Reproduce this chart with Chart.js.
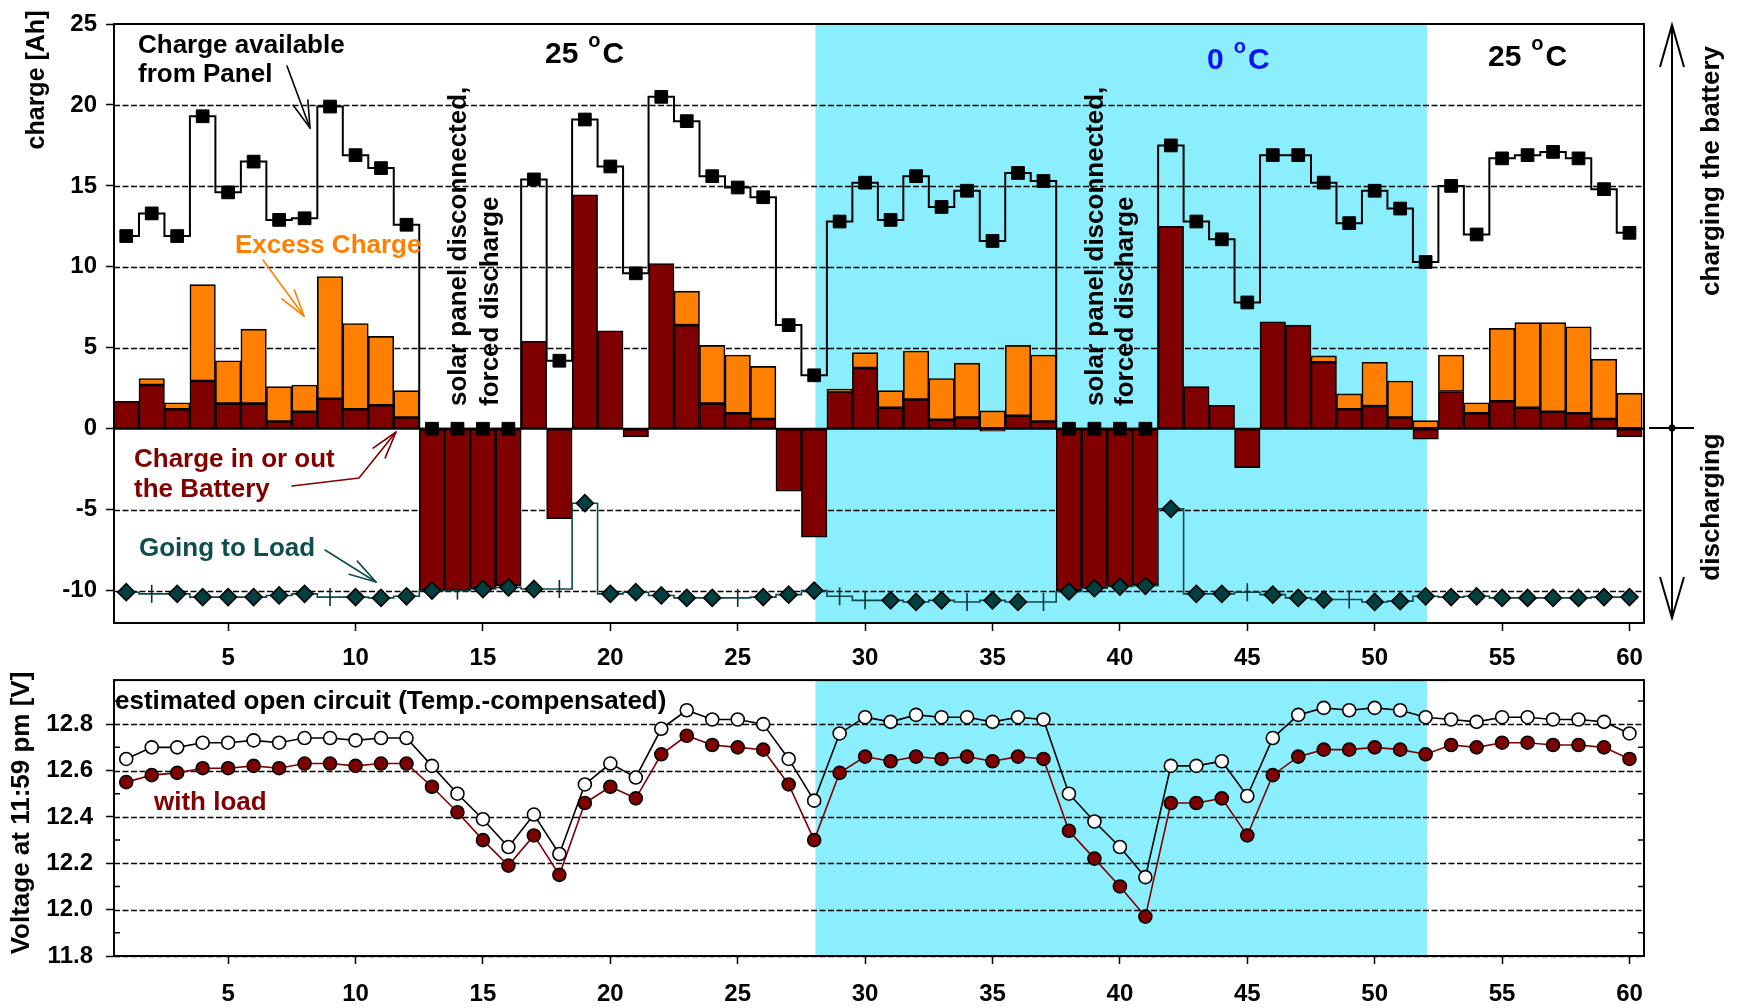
<!DOCTYPE html>
<html>
<head>
<meta charset="utf-8">
<script src="https://cdn.jsdelivr.net/npm/chart.js@4.4.1/dist/chart.umd.min.js"></script>
<style>
  html, body { margin: 0; padding: 0; background: #fff; }
  #wrap { position: relative; width: 1740px; height: 1008px; overflow: hidden; }
  canvas { position: absolute; left: 0; }
  #chargeChart { top: 0; }
  #voltChart { top: 672px; }
</style>
</head>
<body>
<div id="wrap">
  <canvas id="chargeChart" width="1740" height="672"></canvas>
  <canvas id="voltChart" width="1740" height="336"></canvas>
</div>
<script>
// ---- data -----------------------------------------------------------
const days = [1, 2, 3, 4, 5, 6, 7, 8, 9, 10, 11, 12, 13, 14, 15, 16, 17, 18, 19, 20,
              21, 22, 23, 24, 25, 26, 27, 28, 29, 30, 31, 32, 33, 34, 35, 36, 37, 38, 39, 40,
              41, 42, 43, 44, 45, 46, 47, 48, 49, 50, 51, 52, 53, 54, 55, 56, 57, 58, 59, 60];

// charge available from the panel [Ah]
const panelCharge = [11.9, 13.3, 11.9, 19.3, 14.6, 16.5, 12.9, 13.0, 19.9, 16.9, 16.1, 12.6,
                     0, 0, 0, 0, 15.4, 4.2, 19.1, 16.2, 9.6, 20.5, 19.0, 15.6, 14.9, 14.3, 6.4, 3.3,
                     12.8, 15.2, 12.9, 15.6, 13.7, 14.7, 11.6, 15.8, 15.3, 0, 0, 0, 0,
                     17.5, 12.8, 11.7, 7.8, 16.9, 16.9, 15.2, 12.7, 14.7, 13.6, 10.3,
                     15.0, 12.0, 16.7, 16.9, 17.1, 16.7, 14.8, 12.1];

// charge into (+) or out of (-) the battery [Ah]
const batteryCharge = [1.7, 2.7, 1.2, 2.95, 1.55, 1.55, 0.45, 1.05, 1.85, 1.2, 1.45, 0.7,
                       -10.0, -10.0, -9.9, -9.7, 5.4, -5.55, 14.45, 6.05, -0.5, 10.2, 6.4, 1.55, 0.95, 0.6, -3.85, -6.7,
                       2.3, 3.75, 1.3, 1.8, 0.55, 0.7, -0.15, 0.8, 0.45, -10.0, -9.85, -9.75, -9.65,
                       12.5, 2.6, 1.45, -2.4, 6.6, 6.4, 4.1, 1.2, 1.4, 0.7, -0.65,
                       2.3, 0.95, 1.7, 1.3, 1.05, 0.95, 0.6, -0.5];

// excess charge that could not be stored [Ah]
const excessCharge = [0, 0.4, 0.4, 5.95, 2.65, 4.6, 2.15, 1.65, 7.55, 5.3, 4.25, 1.65,
                      0, 0, 0, 0, 0, 0, 0, 0, 0, 0, 2.1, 3.6, 3.6, 3.25, 0, 0,
                      0.15, 0.95, 1.05, 3.0, 2.55, 3.35, 1.1, 4.35, 4.1, 0, 0, 0, 0,
                      0, 0, 0, 0, 0, 0, 0.4, 0.95, 2.7, 2.25, 0.5,
                      2.25, 0.65, 4.5, 5.25, 5.5, 5.35, 3.7, 2.2];

// charge going to the load [Ah]
const loadCharge = [-10.1, -10.2, -10.2, -10.4, -10.4, -10.4, -10.3, -10.2, -10.4, -10.4, -10.45, -10.35,
                    -10.0, -10.0, -9.9, -9.8, -9.9, -9.9, -4.6, -10.2, -10.1, -10.3, -10.45, -10.45, -10.45, -10.4, -10.25, -10.0,
                    -10.35, -10.6, -10.6, -10.7, -10.6, -10.7, -10.6, -10.7, -10.7, -10.05, -9.85, -9.75, -9.7,
                    -4.95, -10.2, -10.2, -10.1, -10.25, -10.45, -10.55, -10.55, -10.7, -10.65, -10.35,
                    -10.4, -10.35, -10.45, -10.45, -10.45, -10.45, -10.4, -10.4];

// days where the load value is marked with a tick instead of a diamond
const loadTickDays = [2, 9, 14, 18, 25, 29, 30, 34, 37, 45, 49];

// battery voltage at 11:59 pm [V]
const openCircuitVolt = [12.65, 12.70, 12.70, 12.72, 12.72, 12.73, 12.72, 12.74, 12.74, 12.73, 12.74, 12.74,
                         12.62, 12.50, 12.39, 12.27, 12.41, 12.24, 12.54, 12.63, 12.57, 12.78, 12.86, 12.82, 12.82, 12.80, 12.65, 12.47,
                         12.76, 12.83, 12.81, 12.84, 12.83, 12.83, 12.81, 12.83, 12.82, 12.50, 12.38, 12.27, 12.14,
                         12.62, 12.62, 12.64, 12.49, 12.74, 12.84, 12.87, 12.86, 12.87, 12.86, 12.83,
                         12.82, 12.81, 12.83, 12.83, 12.82, 12.82, 12.81, 12.76];
const withLoadVolt = [12.55, 12.58, 12.59, 12.61, 12.61, 12.62, 12.61, 12.63, 12.63, 12.62, 12.63, 12.63,
                      12.53, 12.42, 12.30, 12.19, 12.32, 12.15, 12.46, 12.53, 12.48, 12.67, 12.75, 12.71, 12.70, 12.69, 12.54, 12.30,
                      12.59, 12.66, 12.64, 12.66, 12.65, 12.66, 12.64, 12.66, 12.65, 12.34, 12.22, 12.10, 11.97,
                      12.46, 12.46, 12.48, 12.32, 12.58, 12.66, 12.69, 12.69, 12.70, 12.69, 12.67,
                      12.71, 12.70, 12.72, 12.72, 12.71, 12.71, 12.70, 12.65];

// period at 0 °C (days)
const coldPeriod = [28.05, 52.05];

// tick labels
const dayTicks = [5, 10, 15, 20, 25, 30, 35, 40, 45, 50, 55, 60];
const chargeTicks = [-10, -5, 0, 5, 10, 15, 20, 25];
const voltTicks = [11.8, 12.0, 12.2, 12.4, 12.6, 12.8];

// ---- styling helpers --------------------------------------------------
const FAMILY = '"Liberation Sans", Arial, Helvetica, sans-serif';
const bold = px => `bold ${px}px ${FAMILY}`;
const C_CYAN = '#8AEEFC';
const C_RED = '#800000';
const C_ORANGE = '#FF8000';
const C_TEAL = '#004040';
const C_TEAL_TXT = '#0F4E4E';

const pts = arr => days.map((d, i) => ({ x: d, y: arr[i] }));
const ptsNoZero = arr => days.map((d, i) => ({ x: d, y: arr[i] === 0 ? null : arr[i] }));

function text(ctx, s, x, y, size, color, opts = {}) {
  ctx.save();
  ctx.translate(x, y);
  if (opts.rot) ctx.rotate(opts.rot);
  ctx.font = bold(size);
  ctx.fillStyle = color;
  ctx.textAlign = opts.align || 'left';
  ctx.textBaseline = opts.baseline || 'alphabetic';
  ctx.fillText(s, 0, 0);
  ctx.restore();
}

function arrow(ctx, path, color, width, headLen = 28, headAng = 0.28) {
  ctx.save();
  ctx.strokeStyle = color;
  ctx.lineWidth = width;
  ctx.lineJoin = 'round';
  ctx.lineCap = 'round';
  ctx.beginPath();
  ctx.moveTo(path[0][0], path[0][1]);
  for (let i = 1; i < path.length; i++) ctx.lineTo(path[i][0], path[i][1]);
  ctx.stroke();
  const [px, py] = path[path.length - 2];
  const [tx, ty] = path[path.length - 1];
  const a = Math.atan2(ty - py, tx - px);
  ctx.beginPath();
  ctx.moveTo(tx - headLen * Math.cos(a - headAng), ty - headLen * Math.sin(a - headAng));
  ctx.lineTo(tx, ty);
  ctx.lineTo(tx - headLen * Math.cos(a + headAng), ty - headLen * Math.sin(a + headAng));
  ctx.stroke();
  ctx.restore();
}

// "25 °C" style label with a raised small "o"
function degLabel(ctx, num, x, base, color) {
  ctx.save();
  ctx.fillStyle = color;
  ctx.textAlign = 'left';
  ctx.textBaseline = 'alphabetic';
  ctx.font = bold(30);
  ctx.fillText(num, x, base);
  let cx = x + ctx.measureText(num).width + 10;
  ctx.font = bold(20);
  ctx.fillText('o', cx, base - 16);
  cx += ctx.measureText('o').width + 2;
  ctx.font = bold(30);
  ctx.fillText('C', cx, base);
  ctx.restore();
}

// cold period background
const coldBand = {
  id: 'coldBand',
  beforeDraw(chart) {
    const { ctx, chartArea: a, scales: { x } } = chart;
    const x0 = x.getPixelForValue(coldPeriod[0]);
    const x1 = x.getPixelForValue(coldPeriod[1]);
    ctx.save();
    ctx.fillStyle = C_CYAN;
    ctx.fillRect(x0, a.top, x1 - x0, a.bottom - a.top);
    ctx.restore();
  }
};

// dashed horizontal grid, solid zero line, and the plot frame
function gridFrame(dashValues, solidValues) {
  return {
    id: 'gridFrame',
    beforeDatasetsDraw(chart) {
      const { ctx, chartArea: a, scales: { y } } = chart;
      ctx.save();
      ctx.strokeStyle = '#000';
      ctx.lineWidth = 1.5;
      ctx.setLineDash([6, 2.5]);
      dashValues.forEach(v => {
        if (v >= y.max) return;
        const py = Math.round(y.getPixelForValue(v)) + 0.5;
        ctx.beginPath(); ctx.moveTo(a.left, py); ctx.lineTo(a.right, py); ctx.stroke();
      });
      ctx.setLineDash([]);
      ctx.lineWidth = 2;
      solidValues.forEach(v => {
        const py = y.getPixelForValue(v);
        ctx.beginPath(); ctx.moveTo(a.left, py); ctx.lineTo(a.right, py); ctx.stroke();
      });
      ctx.restore();
    },
    afterDatasetsDraw(chart) {
      const { ctx, chartArea: a } = chart;
      ctx.save();
      ctx.strokeStyle = '#000';
      ctx.lineWidth = 2;
      ctx.strokeRect(a.left, a.top, a.right - a.left, a.bottom - a.top);
      ctx.restore();
    }
  };
}

function xScale(height, padding) {
  return {
    type: 'linear', min: 0.52, max: 60.57, stacked: true, offset: false,
    afterBuildTicks: s => { s.ticks = dayTicks.map(v => ({ value: v })); },
    ticks: { autoSkip: false, maxRotation: 0, color: '#000', padding,
             font: { family: FAMILY, size: 24, weight: 'bold' }, callback: v => String(v) },
    grid: { offset: false, drawOnChartArea: false, drawTicks: true, tickLength: 8, tickColor: '#000', tickWidth: 1.5 },
    border: { display: true, color: '#000', width: 2 },
    afterFit: s => { s.height = height; s.paddingLeft = 0; s.paddingRight = 0; }
  };
}

// ---- charge chart -------------------------------------------------------
const chargeNotes = {
  id: 'chargeNotes',
  afterDraw(chart) {
    const ctx = chart.ctx;
    // temperature labels
    degLabel(ctx, '25', 545, 63, '#000');
    degLabel(ctx, '0', 1207, 69, '#0A14F0');
    degLabel(ctx, '25', 1488, 66, '#000');

    // series labels and pointers
    text(ctx, 'Charge available', 138, 53, 26, '#000');
    text(ctx, 'from Panel', 138, 82, 26, '#000');
    arrow(ctx, [[287, 66], [310, 128]], '#000', 1.6);

    text(ctx, 'Excess Charge', 235, 253, 26, C_ORANGE);
    arrow(ctx, [[263, 260], [304, 316]], C_ORANGE, 1.6);

    text(ctx, 'Charge in or out', 134, 467, 26, C_RED);
    text(ctx, 'the Battery', 134, 497, 26, C_RED);
    arrow(ctx, [[292, 486], [359, 478], [396, 432]], C_RED, 1.6);

    text(ctx, 'Going to Load', 139, 556, 26, C_TEAL_TXT);
    arrow(ctx, [[325, 550], [376, 582]], C_TEAL_TXT, 1.6);

    // panel disconnected periods
    const rot = -Math.PI / 2;
    [[459, 491], [1096, 1126]].forEach(([x1, x2]) => {
      text(ctx, 'solar panel disconnected,', x1, 406, 26, '#000', { rot, baseline: 'middle' });
      text(ctx, 'forced discharge', x2, 406, 26, '#000', { rot, baseline: 'middle' });
    });

    // axis title
    text(ctx, 'charge [Ah]', 37, 80, 25, '#000', { rot, align: 'center', baseline: 'middle' });

    // charging / discharging indicator on the right
    ctx.save();
    ctx.strokeStyle = '#000';
    ctx.lineWidth = 2;
    ctx.beginPath();
    ctx.moveTo(1672, 25); ctx.lineTo(1672, 618);
    ctx.moveTo(1660, 67); ctx.lineTo(1672, 25); ctx.lineTo(1684, 67);
    ctx.moveTo(1660, 577); ctx.lineTo(1672, 618); ctx.lineTo(1684, 577);
    ctx.moveTo(1649, 428); ctx.lineTo(1694, 428);
    ctx.stroke();
    ctx.fillStyle = '#000';
    ctx.beginPath(); ctx.arc(1672, 428, 3.5, 0, Math.PI * 2); ctx.fill();
    ctx.restore();
    text(ctx, 'charging the battery', 1712, 171, 26, '#000', { rot, align: 'center', baseline: 'middle' });
    text(ctx, 'discharging', 1712, 507, 26, '#000', { rot, align: 'center', baseline: 'middle' });
  }
};

new Chart(document.getElementById('chargeChart'), {
  data: {
    datasets: [
      {
        type: 'line', label: 'Charge available from Panel', stack: 'panel',
        data: pts(panelCharge), stepped: 'middle',
        borderColor: '#000', borderWidth: 2,
        pointStyle: 'rect', pointRadius: 9, pointBackgroundColor: '#000', pointBorderColor: '#000', pointBorderWidth: 1
      },
      {
        type: 'line', label: 'Going to Load', stack: 'load',
        data: pts(loadCharge), stepped: 'middle',
        borderColor: '#0B4A4A', borderWidth: 1.6,
        pointStyle: c => loadTickDays.includes(days[c.dataIndex]) ? 'line' : 'rectRot',
        pointRotation: c => loadTickDays.includes(days[c.dataIndex]) ? 90 : 0,
        pointRadius: c => loadTickDays.includes(days[c.dataIndex]) ? 9 : 8.5,
        pointBackgroundColor: C_TEAL,
        pointBorderColor: c => loadTickDays.includes(days[c.dataIndex]) ? '#0A2E2E' : '#000',
        pointBorderWidth: 1.6
      },
      {
        type: 'bar', label: 'Charge in or out the Battery', stack: 'bat',
        data: pts(batteryCharge),
        backgroundColor: C_RED, borderColor: '#000', borderWidth: 1.6, borderSkipped: false,
        barPercentage: 1, categoryPercentage: 1
      },
      {
        type: 'bar', label: 'Excess Charge', stack: 'bat',
        data: ptsNoZero(excessCharge),
        backgroundColor: C_ORANGE, borderColor: '#000', borderWidth: 1.6, borderSkipped: false,
        barPercentage: 1, categoryPercentage: 1
      }
    ]
  },
  options: {
    responsive: false, animation: false, devicePixelRatio: 1,
    layout: { padding: { top: 24, right: 96, left: 0, bottom: 0 } },
    plugins: { legend: { display: false }, tooltip: { enabled: false } },
    scales: {
      x: xScale(49, 13),
      y: {
        min: -12, max: 25, stacked: true,
        afterBuildTicks: s => { s.ticks = chargeTicks.map(v => ({ value: v })); },
        ticks: { color: '#000', padding: 9, font: { family: FAMILY, size: 24, weight: 'bold' }, callback: v => String(v) },
        grid: { drawOnChartArea: false, drawTicks: true, tickLength: 8, tickColor: '#000', tickWidth: 1.5 },
        border: { display: true, color: '#000', width: 2 },
        afterFit: s => { s.width = 114; s.paddingTop = 0; s.paddingBottom = 0; }
      }
    }
  },
  plugins: [coldBand, gridFrame(chargeTicks.filter(v => v !== 0), [0]), chargeNotes]
});

// ---- voltage chart ------------------------------------------------------
const voltNotes = {
  id: 'voltNotes',
  afterDraw(chart) {
    const { ctx, chartArea: a, scales: { y } } = chart;
    // minor ticks between labelled values, inside both side frames
    ctx.save();
    ctx.strokeStyle = '#000';
    ctx.lineWidth = 1.5;
    voltTicks.forEach(v => {
      const py = y.getPixelForValue(v + 0.1);
      if (py < a.top) return;
      ctx.beginPath();
      ctx.moveTo(a.left, py); ctx.lineTo(a.left + 6, py);
      ctx.moveTo(a.right, py); ctx.lineTo(a.right - 6, py);
      ctx.stroke();
    });
    ctx.restore();
    text(ctx, 'estimated open circuit (Temp.-compensated)', 115, 37, 26, '#000');
    text(ctx, 'with load', 154, 138, 26, C_RED);
    text(ctx, 'Voltage at 11:59 pm [V]', 22, 141, 26, '#000', { rot: -Math.PI / 2, align: 'center', baseline: 'middle' });
  }
};

new Chart(document.getElementById('voltChart'), {
  type: 'line',
  data: {
    datasets: [
      {
        label: 'estimated open circuit (Temp.-compensated)',
        data: pts(openCircuitVolt),
        borderColor: '#000', borderWidth: 1.6,
        pointStyle: 'circle', pointRadius: 6.5, pointBackgroundColor: '#fff', pointBorderColor: '#000', pointBorderWidth: 1.6
      },
      {
        label: 'with load',
        data: pts(withLoadVolt),
        borderColor: C_RED, borderWidth: 1.6,
        pointStyle: 'circle', pointRadius: 6.5, pointBackgroundColor: C_RED, pointBorderColor: '#000', pointBorderWidth: 1.6
      }
    ]
  },
  options: {
    responsive: false, animation: false, devicePixelRatio: 1,
    layout: { padding: { top: 6, right: 96, left: 0, bottom: 0 } },
    plugins: { legend: { display: false }, tooltip: { enabled: false } },
    scales: {
      x: xScale(52, 16),
      y: {
        min: 11.8, max: 12.99,
        afterBuildTicks: s => { s.ticks = voltTicks.map(v => ({ value: v })); },
        ticks: { color: '#000', padding: 13, font: { family: FAMILY, size: 24, weight: 'bold' }, callback: v => v.toFixed(1) },
        grid: { drawOnChartArea: false, drawTicks: true, tickLength: 8, tickColor: '#000', tickWidth: 1.5 },
        border: { display: true, color: '#000', width: 2 },
        afterFit: s => { s.width = 114; s.paddingTop = 0; s.paddingBottom = 0; }
      }
    }
  },
  plugins: [coldBand, gridFrame(voltTicks, []), voltNotes]
});
</script>
</body>
</html>
